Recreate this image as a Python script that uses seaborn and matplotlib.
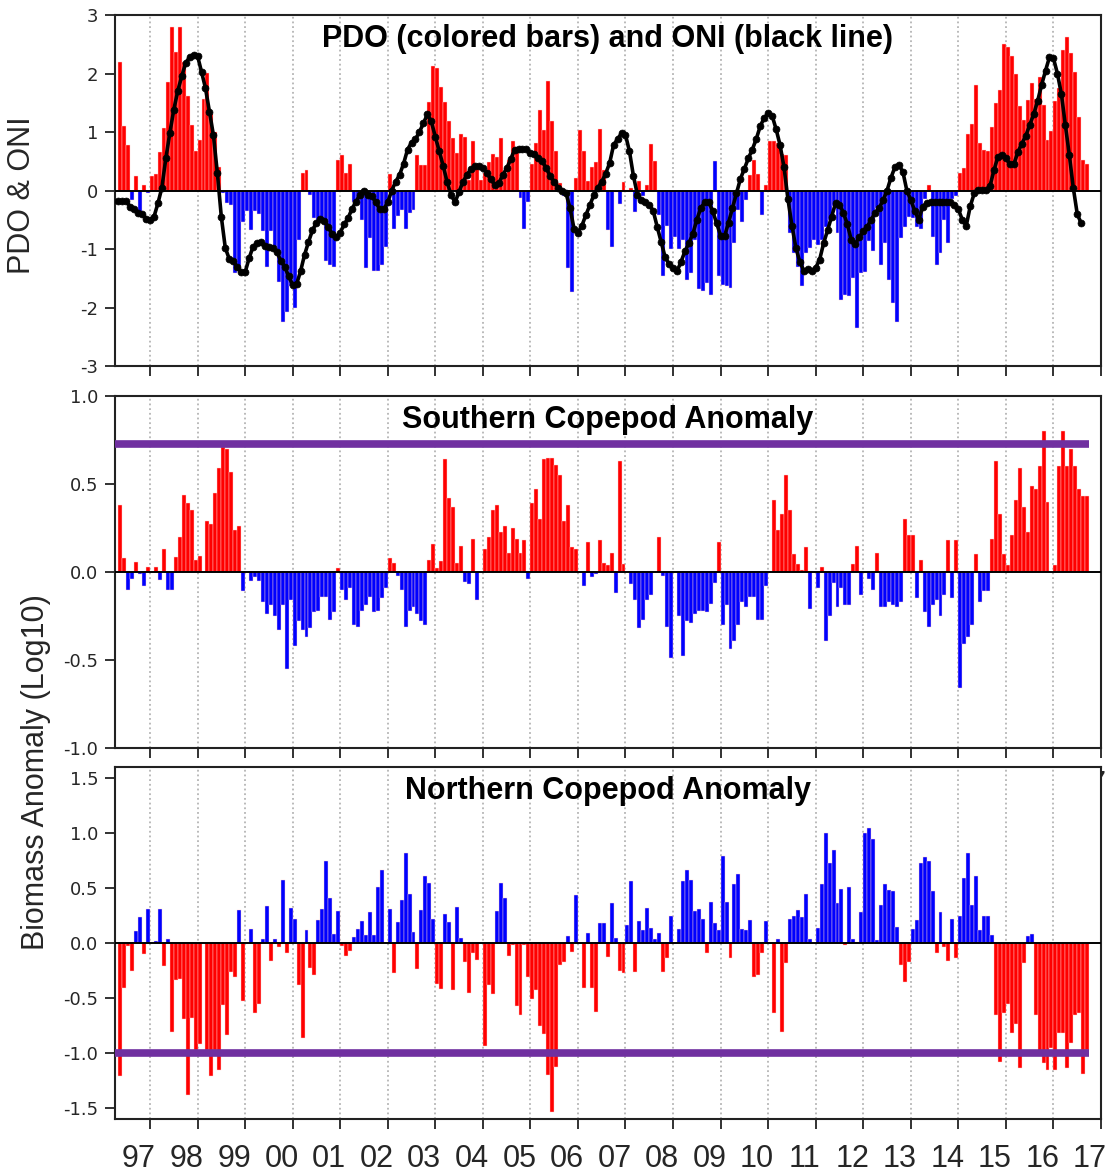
import numpy as np
import seaborn as sns
import matplotlib
matplotlib.use('Agg')
from matplotlib import pyplot as plt
from matplotlib.transforms import ScaledTranslation

# monthly series, first value = May 1996
first_year, first_month = 1996, 5

pdo = [
    2.19, 1.10, 0.77, -0.16, 0.25, -0.43, 0.10, -0.05,                       # 1996 May-Dec
    0.24, 0.28, 0.66, 1.06, 1.85, 2.79, 2.36, 2.80, 2.19, 1.62, 1.12, 0.68,   # 1997
    0.87, 1.56, 2.01, 1.30, 1.00, 0.40, -0.05, -0.22, -0.25, -1.41, -1.38, -0.53,
    -0.35, -0.67, -0.35, -0.40, -0.70, -1.30, -0.70, -0.96, -1.56, -2.24, -2.07, -1.64,
    -2.01, -0.84, 0.30, 0.35, -0.07, -0.47, -0.55, -0.50, -1.21, -1.27, -1.30, 0.52,
    0.60, 0.30, 0.45, -0.19, -0.22, -0.50, -1.33, -0.81, -1.38, -1.38, -1.28, -0.96,
    0.28, -0.66, -0.44, -0.34, -0.66, -0.38, -0.33, 0.61, 0.44, 0.43, 1.52, 2.12,
    2.10, 1.77, 1.52, 1.19, 0.90, 0.64, 0.97, 0.91, 0.18, 0.84, 0.41, 0.18,
    0.30, 0.48, 0.63, 0.58, 0.90, 0.30, 0.52, 0.85, 0.75, -0.13, -0.66, -0.19,
    0.46, 0.81, 1.38, 1.04, 1.87, 1.18, 0.67, 0.13, -0.10, -1.33, -1.73, 0.21,
    1.04, 0.67, 0.17, 0.41, 0.48, 1.05, 0.35, -0.67, -0.96, -0.02, -0.23, 0.14,
    0.01, 0.04, -0.37, 0.17, -0.10, 0.09, 0.80, 0.50, -0.42, -1.47, -0.60, -1.00,
    -0.80, -1.00, -0.85, -1.53, -1.41, -0.85, -1.68, -1.71, -1.58, -1.78, 0.50, -1.47,
    -1.61, -1.64, -1.67, -0.90, -0.33, -0.54, -0.16, 0.27, 0.52, 0.28, -0.42, 0.10,
    0.84, 0.85, 0.81, 0.63, 0.60, -0.73, -1.07, -1.30, -1.63, -1.07, -0.99, -0.84,
    -0.94, -0.84, -0.62, -0.50, -0.27, -0.72, -1.87, -1.78, -1.81, -1.50, -2.35, -1.41,
    -1.40, -0.87, -1.04, -0.30, -1.27, -0.89, -1.53, -1.93, -2.24, -0.81, -0.62, -0.45,
    -0.47, -0.62, -0.66, -0.15, 0.09, -0.80, -1.27, -1.07, -0.50, -0.89, -0.15, -0.10,
    0.30, 0.38, 0.97, 1.13, 1.80, 0.82, 0.70, 0.67, 1.08, 1.49, 1.72, 2.51,
    2.45, 2.30, 2.00, 1.44, 1.20, 1.54, 1.84, 1.56, 1.94, 1.47, 0.86, 1.01,
    1.53, 1.75, 2.40, 2.62, 2.35, 2.03, 1.25, 0.52, 0.46,                    # 2016 Jan-Sep
]
pdo_drawn_blue = [150]   # one positive month is drawn blue in the original

oni = [
    -0.18, -0.18, -0.18, -0.28, -0.32, -0.38, -0.40, -0.48,
    -0.50, -0.45, -0.22, 0.05, 0.55, 0.98, 1.38, 1.70, 1.95, 2.18, 2.28, 2.32,
    2.30, 2.03, 1.75, 1.35, 0.95, 0.30, -0.45, -0.98, -1.17, -1.21, -1.30, -1.40,
    -1.40, -1.16, -0.96, -0.90, -0.88, -0.95, -0.97, -0.99, -1.05, -1.20, -1.30, -1.47,
    -1.61, -1.60, -1.38, -1.10, -0.88, -0.68, -0.55, -0.49, -0.52, -0.62, -0.75, -0.80,
    -0.72, -0.58, -0.47, -0.31, -0.19, -0.07, 0.00, -0.07, -0.10, -0.20, -0.32, -0.32,
    -0.20, 0.00, 0.15, 0.27, 0.46, 0.70, 0.82, 0.88, 1.00, 1.15, 1.30, 1.18,
    0.92, 0.67, 0.42, 0.14, -0.08, -0.20, -0.02, 0.15, 0.27, 0.37, 0.42, 0.42,
    0.38, 0.30, 0.19, 0.10, 0.12, 0.26, 0.38, 0.53, 0.70, 0.71, 0.71, 0.71,
    0.64, 0.63, 0.56, 0.50, 0.38, 0.25, 0.15, 0.05, 0.00, -0.05, -0.30, -0.65,
    -0.72, -0.60, -0.42, -0.25, -0.08, 0.05, 0.15, 0.29, 0.47, 0.78, 0.88, 0.98,
    0.95, 0.67, 0.25, -0.07, -0.16, -0.20, -0.24, -0.35, -0.62, -0.88, -1.14, -1.26,
    -1.32, -1.38, -1.22, -1.04, -0.90, -0.74, -0.50, -0.30, -0.20, -0.20, -0.35, -0.56,
    -0.77, -0.78, -0.55, -0.30, -0.05, 0.20, 0.37, 0.55, 0.70, 0.88, 1.10, 1.24,
    1.32, 1.28, 1.05, 0.78, 0.40, -0.15, -0.60, -0.98, -1.22, -1.37, -1.35, -1.37,
    -1.32, -1.18, -0.90, -0.68, -0.45, -0.22, -0.24, -0.38, -0.58, -0.85, -0.91, -0.80,
    -0.70, -0.62, -0.50, -0.38, -0.30, -0.17, 0.00, 0.22, 0.40, 0.43, 0.32, 0.00,
    -0.16, -0.35, -0.50, -0.28, -0.21, -0.20, -0.20, -0.20, -0.20, -0.20, -0.20, -0.25,
    -0.32, -0.50, -0.60, -0.27, -0.05, 0.01, 0.01, 0.01, 0.08, 0.35, 0.58, 0.61,
    0.55, 0.45, 0.45, 0.65, 0.80, 0.93, 1.12, 1.30, 1.53, 1.80, 2.05, 2.28,
    2.26, 2.00, 1.65, 1.12, 0.61, 0.05, -0.40, -0.56,
]

southern = [
    0.38, 0.08, -0.10, -0.04, 0.055, -0.01, -0.08, 0.03,
    0.00, 0.03, -0.045, 0.13, -0.10, -0.10, 0.085, 0.20, 0.44, 0.39, 0.35, 0.07,
    0.09, 0.00, 0.29, 0.27, 0.45, 0.59, 0.71, 0.70, 0.57, 0.24, 0.26, -0.11,
    0.00, -0.05, -0.03, -0.05, -0.17, -0.24, -0.19, -0.25, -0.33, -0.19, -0.55, -0.16,
    -0.42, -0.28, -0.33, -0.37, -0.32, -0.23, -0.22, -0.14, -0.14, -0.27, -0.23, 0.025,
    -0.10, -0.16, -0.09, -0.30, -0.31, -0.22, -0.19, -0.14, -0.23, -0.22, -0.15, -0.09,
    0.08, 0.05, -0.02, -0.10, -0.31, -0.22, -0.20, -0.24, -0.28, -0.30, 0.07, 0.16,
    0.02, 0.06, 0.64, 0.42, 0.37, 0.05, 0.15, -0.055, -0.07, 0.19, -0.16, 0.00,
    0.13, 0.20, 0.35, 0.38, 0.23, 0.26, 0.11, 0.25, 0.19, 0.11, 0.18, -0.04,
    0.39, 0.47, 0.30, 0.64, 0.65, 0.65, 0.61, 0.55, 0.29, 0.38, 0.14, 0.13,
    0.00, -0.08, 0.17, -0.03, -0.01, 0.18, 0.05, 0.04, 0.11, -0.12, 0.63, 0.045,
    0.00, -0.07, -0.16, -0.32, -0.27, -0.16, -0.13, 0.00, 0.20, -0.02, -0.31, -0.49,
    0.00, -0.25, -0.48, -0.28, -0.29, -0.24, -0.22, -0.22, -0.23, -0.18, -0.065, 0.17,
    -0.30, -0.19, -0.44, -0.39, -0.30, -0.17, -0.20, -0.14, -0.14, -0.27, -0.27, -0.08,
    0.00, 0.41, 0.24, 0.33, 0.55, 0.35, 0.10, 0.045, 0.01, 0.14, -0.21, 0.00,
    -0.09, 0.027, -0.39, -0.25, -0.06, -0.20, -0.09, -0.19, -0.19, 0.045, 0.15, -0.13,
    0.00, -0.04, -0.10, 0.11, -0.20, -0.20, -0.17, -0.19, -0.20, -0.17, 0.30, 0.21,
    0.21, -0.15, 0.07, -0.23, -0.31, -0.19, -0.16, -0.25, -0.13, 0.18, -0.15, 0.18,
    -0.66, -0.41, -0.37, -0.30, 0.10, -0.17, -0.11, -0.11, 0.19, 0.63, 0.33, 0.10,
    0.04, 0.21, 0.41, 0.59, 0.37, 0.23, 0.49, 0.47, 0.60, 0.80, 0.40, 0.00,
    0.04, 0.60, 0.80, 0.60, 0.70, 0.60, 0.47, 0.43, 0.43,
]

northern = [
    -1.21, -0.41, -0.03, -0.25, 0.11, 0.24, -0.10, 0.31,
    0.00, 0.015, 0.31, -0.21, 0.04, -0.81, -0.34, -0.33, -0.69, -1.38, -0.68, -0.97,
    -0.92, 0.00, -0.97, -1.21, -0.97, -1.15, -0.56, -0.84, -0.26, -0.31, 0.30, -0.53,
    0.00, 0.13, -0.64, -0.55, 0.04, 0.34, -0.16, 0.04, -0.04, 0.57, -0.09, 0.32,
    0.22, -0.38, -0.86, 0.12, -0.23, -0.29, 0.21, 0.31, 0.75, 0.41, 0.08, 0.29,
    -0.03, -0.12, -0.07, 0.055, 0.13, 0.20, 0.07, 0.28, 0.07, 0.51, 0.66, 0.00,
    0.31, -0.27, 0.19, 0.39, 0.82, 0.45, 0.10, -0.24, 0.30, 0.61, 0.55, 0.22,
    -0.37, -0.42, 0.26, 0.19, -0.43, 0.33, 0.05, -0.17, -0.45, -0.09, -0.15, 0.00,
    -0.94, -0.38, -0.46, 0.29, 0.55, 0.41, -0.12, -0.02, -0.57, -0.65, -0.02, -0.31,
    -0.51, -0.43, -0.75, -0.83, -1.20, -1.54, -1.13, -0.20, -0.17, 0.06, -0.08, 0.44,
    0.00, -0.41, 0.09, -0.41, -0.63, 0.18, 0.18, -0.13, 0.36, 0.045, -0.25, -0.27,
    0.16, 0.56, -0.26, 0.20, 0.12, 0.32, 0.14, 0.036, 0.09, -0.26, -0.14, 0.25,
    0.00, 0.13, 0.56, 0.66, 0.57, 0.29, 0.31, 0.22, -0.09, 0.37, 0.18, 0.12,
    0.79, 0.37, -0.14, 0.54, 0.63, 0.13, 0.12, 0.21, -0.31, -0.29, -0.09, 0.20,
    0.00, -0.64, 0.04, -0.81, -0.18, 0.22, 0.25, 0.30, 0.24, 0.45, 0.036, 0.00,
    0.14, 0.54, 1.00, 0.73, 0.85, 0.36, 0.49, -0.02, 0.51, 0.04, 0.01, 0.28,
    1.00, 1.05, 0.95, 0.03, 0.35, 0.54, 0.48, 0.47, 0.15, -0.20, -0.35, -0.17,
    0.13, 0.21, 0.73, 0.78, 0.75, 0.47, -0.09, 0.28, -0.04, -0.16, 0.22, -0.14,
    0.25, 0.59, 0.82, 0.35, 0.61, 0.12, 0.25, 0.25, 0.07, -0.65, -1.08, -0.64,
    -0.55, -0.82, -0.74, -1.14, -0.18, 0.06, 0.08, -0.65, -1.00, -1.09, -1.15, -0.95,
    -1.15, -0.82, -0.82, -1.14, -0.91, -0.65, -0.64, -1.19, -0.97,
]

southern_line = 0.73
northern_line = -1.0
titles = ['PDO (colored bars) and ONI (black line)', 'Southern Copepod Anomaly',
          'Northern Copepod Anomaly']
year_ticks = list(range(1997, 2018))
year_labels = [f'{y % 100:02d}' for y in year_ticks]

sns.set_theme(style='white')
plt.rcParams['font.family'] = ['Liberation Sans', 'DejaVu Sans']
plt.rcParams['axes.unicode_minus'] = False

RED, BLUE, PURPLE = '#ff0000', '#0000ff', '#7030a0'
months = first_year + (first_month - 1 + np.arange(len(pdo))) / 12
xmin, xmax = 1996.264, 2017.0
data_end = months[-1] + 1 / 12

fig = plt.figure(figsize=(11.09, 11.75), dpi=100)
W, H = 1109, 1175
left, width = 115 / W, 986 / W
ax_top = fig.add_axes([left, 1 - 366 / H, width, 351 / H])
ax_mid = fig.add_axes([left, 1 - 748 / H, width, 352 / H])
ax_bot = fig.add_axes([left, 1 - 1119 / H, width, 352 / H])


def sign_colors(values, blue_idx=()):
    cols = [RED if v > 0 else BLUE for v in values]
    for i in blue_idx:
        cols[i] = BLUE
    return cols


def style_axis(ax, ylim, yticks, ylabels):
    ax.set_xlim(xmin, xmax)
    ax.set_ylim(*ylim)
    ax.set_yticks(yticks)
    ax.set_yticklabels(ylabels, family='DejaVu Sans', fontsize=13)
    ax.set_xticks(year_ticks)
    ax.set_xticklabels([])
    for x in year_ticks[:-1]:
        ax.axvline(x, color='#b4b4b4', lw=1.3, ls=(0, (1, 1.6)), zorder=1)
    ax.axhline(0, color='black', lw=1.4, zorder=3)
    ax.tick_params(axis='both', direction='out', length=7, width=1.3, color='#222222',
                   left=True, bottom=True, pad=5)
    for s in ax.spines.values():
        s.set_color('#222222')
        s.set_linewidth(1.5)
    ax.grid(False)


# PDO bars + ONI line
ax_top.bar(months, pdo, width=1 / 12, align='edge', color=sign_colors(pdo, pdo_drawn_blue),
           edgecolor='#ffd0d0', linewidth=0.3, zorder=2)
sns.lineplot(x=months[:len(oni)], y=oni, ax=ax_top, color='black', lw=2.6, marker='o',
             markersize=5, markeredgecolor='black', markeredgewidth=0.5, zorder=4)
style_axis(ax_top, (-3, 3), range(-3, 4), [str(v) for v in range(-3, 4)])

# Southern copepods
ax_mid.bar(months, southern, width=1 / 12, align='edge', color=sign_colors(southern),
           edgecolor='#ffd0d0', linewidth=0.3, zorder=2)
ax_mid.hlines(southern_line, xmin - 1, data_end, color=PURPLE, lw=5.5, zorder=3)
mid_ticks = [-1.0, -0.5, 0.0, 0.5, 1.0]
style_axis(ax_mid, (-1, 1), mid_ticks, [f'{v:.1f}' for v in mid_ticks])

# Northern copepods (red when negative)
ax_bot.bar(months, northern, width=1 / 12, align='edge',
           color=[BLUE if v > 0 else RED for v in northern],
           edgecolor='#ffd0d0', linewidth=0.3, zorder=2)
ax_bot.hlines(northern_line, xmin - 1, data_end, color=PURPLE, lw=5.5, zorder=3)
bot_ticks = [-1.5, -1.0, -0.5, 0.0, 0.5, 1.0, 1.5]
style_axis(ax_bot, (-1.6, 1.6), bot_ticks, [f'{v:.1f}' for v in bot_ticks])

shift = ScaledTranslation(-0.11, 0, fig.dpi_scale_trans)
# the middle panel's labels sit under the bottom panel; only the tail of "17" peeks out
mid_labels = [lab if lab == year_labels[-1] else '' for lab in year_labels]
for ax, labels, pad in ((ax_mid, mid_labels, 9), (ax_bot, year_labels, 11)):
    ax.set_xticklabels(labels, fontsize=22)
    ax.tick_params(axis='x', pad=pad)
    for lab in ax.get_xticklabels():
        lab.set_transform(lab.get_transform() + shift)

for ax, title in zip((ax_top, ax_mid, ax_bot), titles):
    ax.text(0.5, 0.933, title, transform=ax.transAxes, ha='center', va='center',
            fontsize=22, fontweight='bold', color='black', zorder=6)

fig.text(22 / W, 1 - 195 / H, 'PDO & ONI', rotation=90, ha='center', va='center', fontsize=22)
fig.text(36 / W, 1 - 772 / H, 'Biomass Anomaly (Log10)', rotation=90, ha='center',
         va='center', fontsize=22)

fig.savefig('out.png', dpi=100)
